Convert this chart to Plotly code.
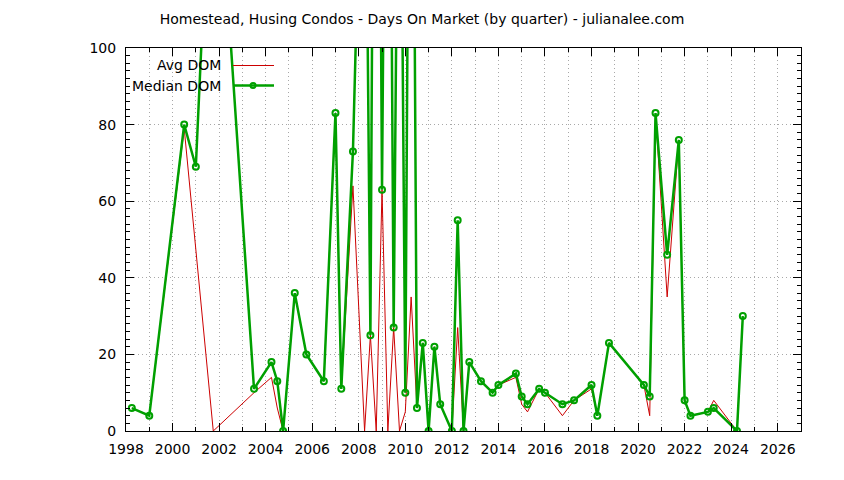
import plotly.graph_objects as go

# Quarter positions (year + (quarter-1)/4)
quarters = [1998.25, 1999.0, 2000.5, 2001.0, 2001.75, 2003.5, 2004.25, 2004.5, 2004.75,
            2005.25, 2005.75, 2006.5, 2007.0, 2007.25, 2007.75, 2008.25, 2008.5, 2008.75,
            2009.0, 2009.25, 2009.5, 2009.75, 2010.0, 2010.25, 2010.5, 2010.75, 2011.0,
            2011.25, 2011.5, 2012.0, 2012.25, 2012.5, 2012.75, 2013.25, 2013.75, 2014.0,
            2014.75, 2015.0, 2015.25, 2015.75, 2016.0, 2016.75, 2017.25, 2018.0, 2018.25,
            2018.75, 2020.25, 2020.5, 2020.75, 2021.25, 2021.75, 2022.0, 2022.25, 2023.0,
            2023.25, 2024.25, 2024.5]

avg_dom = [6, 4, 79, 48, 0, 10, 14, 6, 0,
           36, 20, 13, 83, 11, 64, 0, 25, 0,
           63, 0, 27, 0, 5, 35, 6, 23, 0,
           22, 7, 0, 27, 0, 18, 13, 10, 12,
           14, 7, 5, 11, 10, 4, 8, 11, 4,
           23, 12, 4, 83, 35, 76, 8, 4, 5,
           8, 0, 30]

median_dom = [6, 4, 80, 69, 169, 11, 18, 13, 0,
              36, 20, 13, 83, 11, 73, 190, 25, 300,
              63, 262, 27, 204, 10, 262, 6, 23, 0,
              22, 7, 0, 55, 0, 18, 13, 10, 12,
              15, 9, 7, 11, 10, 7, 8, 12, 4,
              23, 12, 9, 83, 46, 76, 8, 4, 5,
              6, 0, 30]

title_text = "Homestead, Husing Condos - Days On Market (by quarter) - julianalee.com"
x_tick_vals = list(range(1998, 2027, 2))
y_tick_vals = [0, 20, 40, 60, 80, 100]

RED = "#cc0000"
GREEN = "#00a000"
FONT = "DejaVu Sans"
FS = 14

fig = go.Figure()
fig.add_trace(go.Scatter(x=quarters, y=avg_dom, mode="lines", name="Avg DOM",
                         line=dict(color=RED, width=1), showlegend=False))
fig.add_trace(go.Scatter(x=quarters, y=median_dom, mode="lines+markers", name="Median DOM",
                         line=dict(color=GREEN, width=2.5),
                         marker=dict(symbol="circle-open", size=6, color=GREEN,
                                     line=dict(width=2, color=GREEN)),
                         showlegend=False))

W, H = 844, 480
OFF = 8  # page body margin
# plot area in screenshot pixels
SL, SR, ST, SB = 126, 801, 48, 431
L = SL - OFF
T = ST - OFF
R = OFF + W - SR
B = OFF + H - SB
pw, ph = SR - SL, SB - ST

def px_x(p):
    return (p - SL) / pw

def px_y(p):
    return (SB - p) / ph

# custom gnuplot-style legend (text left, sample right)
legend_rows = [("Avg DOM", 65.5, RED, 1, False), ("Median DOM", 85.5, GREEN, 2.5, True)]
shapes = []
annotations = []
for label, yy, col, wd, mk in legend_rows:
    annotations.append(dict(text=label, xref="paper", yref="paper", x=px_x(223), y=px_y(yy),
                            xanchor="right", yanchor="middle", showarrow=False,
                            font=dict(family=FONT, size=FS, color="black")))
    shapes.append(dict(type="line", xref="paper", yref="paper", x0=px_x(233), x1=px_x(274),
                       y0=px_y(yy), y1=px_y(yy), line=dict(color=col, width=wd)))
    if mk:
        shapes.append(dict(type="circle", xref="paper", yref="paper",
                           xsizemode="pixel", ysizemode="pixel",
                           xanchor=px_x(253), yanchor=px_y(yy),
                           x0=-2.5, x1=2.5, y0=-2.5, y1=2.5,
                           line=dict(color=GREEN, width=2), fillcolor="rgba(0,0,0,0)"))

axis_common = dict(showline=True, linecolor="black", linewidth=1, mirror="allticks",
                   ticks="inside", tickcolor="black", zeroline=False,
                   tickfont=dict(family=FONT, size=FS, color="black"),
                   showgrid=True, gridcolor="#a8a8a8", griddash="1px,3px", gridwidth=1)

fig.update_layout(
    width=W, height=H,
    margin=dict(l=L, r=R, t=T, b=B),
    paper_bgcolor="white", plot_bgcolor="white",
    title=dict(text=title_text, x=(422 - OFF) / W, xref="container", xanchor="center",
               y=1 - (19 - OFF) / H, yanchor="middle",
               font=dict(family=FONT, size=FS, color="black")),
    xaxis=dict(range=[1998, 2027], tickvals=x_tick_vals, ticklen=8, ticklabelstandoff=5,
               minor=dict(dtick=1, tick0=1998, ticks="inside", ticklen=4, tickcolor="black",
                          showgrid=True, gridcolor="#a8a8a8", griddash="1px,3px", gridwidth=1),
               **axis_common),
    yaxis=dict(range=[0, 100], tickvals=y_tick_vals, ticklen=8, ticklabelstandoff=6,
               minor=dict(dtick=2, tick0=0, ticks="inside", ticklen=4, tickcolor="black",
                          showgrid=False),
               **axis_common),
    shapes=shapes, annotations=annotations,
    showlegend=False,
)

fig.write_html("out.html")
